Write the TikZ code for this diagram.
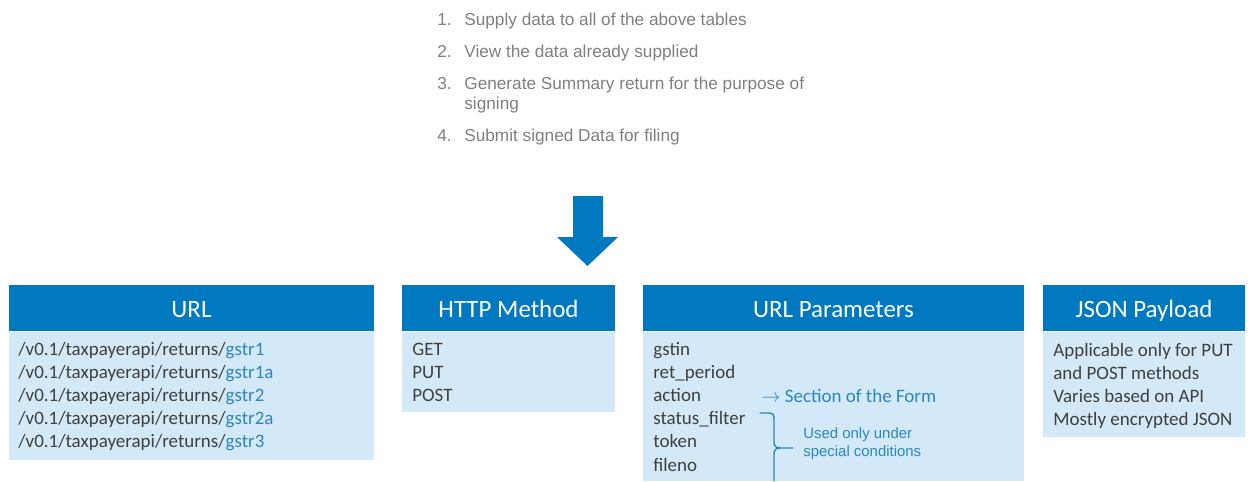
\documentclass[tikz,border=0pt]{standalone}
\usepackage{fontspec}
\setmainfont{Carlito}
\newfontfamily\listfont{Liberation Sans}
\definecolor{hdrblue}{HTML}{0079C1}
\definecolor{bodyblue}{HTML}{D3E9F7}
\definecolor{bodygray}{HTML}{3F3F3F}
\definecolor{accentblue}{HTML}{2E86BE}
\definecolor{listgray}{HTML}{7F7F7F}
\tikzset{
  headband/.style={fill=hdrblue},
  bodyband/.style={fill=bodyblue},
  headlabel/.style={font=\fontsize{14.2}{17}\selectfont, text=white, anchor=base, inner sep=0pt},
  bodyline/.style={font=\fontsize{10.8}{13}\selectfont, text=bodygray, anchor=base west, inner sep=0pt},
  noteline/.style={font=\listfont\fontsize{8.5}{10.2}\selectfont, text=accentblue, anchor=base west, inner sep=0pt},
  stepnum/.style={font=\listfont\fontsize{9.8}{11.8}\selectfont, text=listgray, anchor=base west, inner sep=0pt},
  steptext/.style={stepnum},
  bracket/.style={draw=accentblue, line width=0.8pt, line join=round, line cap=round},
  downarrow/.style={fill=hdrblue},
}

\begin{document}
\begin{tikzpicture}[x=0.02cm, y=-0.02cm]
\useasboundingbox (0,0) rectangle (1250,481);
\node[stepnum] (n1) at (437,25) {1.};
\node[steptext] (s1) at (464,25) {Supply data to all of the above tables};
\node[stepnum] (n2) at (437,57) {2.};
\node[steptext] (s2) at (464,57) {View the data already supplied};
\node[stepnum] (n3) at (437,89) {3.};
\node[steptext] (s3) at (464,89) {Generate Summary return for the purpose of};
\node[steptext] (s3b) at (464,109) {signing};
\node[stepnum] (n4) at (437,141) {4.};
\node[steptext] (s4) at (464,141) {Submit signed Data for filing};
\fill[downarrow] (573,196) -- (603,196) -- (603,237) -- (618,237) -- (587.5,266) -- (557,237) -- (573,237) -- cycle;
\fill[headband] (9,285) rectangle (374,331);
\fill[bodyband] (9,332) rectangle (374,460);
\node[headlabel] (urlhead) at (191.5,317) {URL};
\foreach \s [count=\i] in {1,1a,2,2a,3}
  \node[bodyline] (url\i) at (18,{355+23.2*(\i-1)}) {/v0.1/taxpayerapi/returns/\textcolor{accentblue}{gstr\s}};
\fill[headband] (402,285) rectangle (615,331);
\fill[bodyband] (402,332) rectangle (615,412);
\node[headlabel] (httphead) at (508.5,317) {HTTP Method};
\node[bodyline] (get) at (412,355) {GET};
\node[bodyline] (put) at (412,378) {PUT};
\node[bodyline] (post) at (412,401) {POST};
\fill[headband] (643,285) rectangle (1024,331);
\fill[bodyband] (643,332) rectangle (1024,481);
\node[headlabel] (parhead) at (833.5,317) {URL Parameters};
\foreach \p [count=\i] in {gstin,ret\_period,action,status\_filter,token,fileno}
  \node[bodyline] (par\i) at (653,{355+23.2*(\i-1)}) {\p};
\node[bodyline, text=accentblue] (section) at (761,402) {$\rightarrow$ Section of the Form};
\draw[bracket] (760,413) -- (769,413) .. controls (773,413) and (774,415) .. (774,419) -- (774,442) .. controls (774,446) and (776,448) .. (780,448) -- (793,448);
\draw[bracket] (780,448) .. controls (776,448) and (774,450) .. (774,454) -- (774,481);
\node[noteline] (used1) at (803,438) {Used only under};
\node[noteline] (used2) at (803,456) {special conditions};
\fill[headband] (1043,285) rectangle (1245,331);
\fill[bodyband] (1043,332) rectangle (1245,437);
\node[headlabel] (jsonhead) at (1144,317) {JSON Payload};
\node[bodyline] (json1) at (1053,356) {Applicable only for PUT};
\node[bodyline] (json2) at (1053,379) {and POST methods};
\node[bodyline] (json3) at (1053,402) {Varies based on API};
\node[bodyline] (json4) at (1053,425) {Mostly encrypted JSON};
\end{tikzpicture}
\end{document}
